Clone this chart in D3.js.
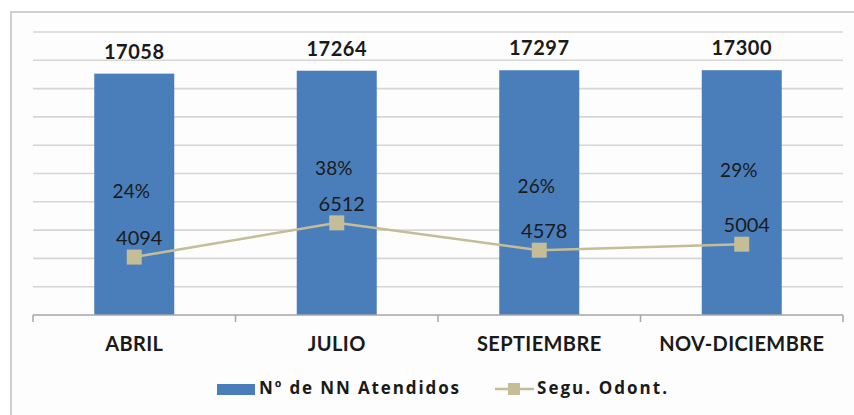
<!DOCTYPE html>
<head>
<meta charset="utf-8">
<style>
  body { margin: 0; background: #fff; }
  text { font-family: Lato, "Open Sans", sans-serif; fill: #1a1a1a; }
  .leg { font-family: "Open Sans", Lato, sans-serif; }
</style>
</head>
<body>
  <svg width="854" height="415"></svg>

  <script src="https://d3js.org/d3.v7.min.js"></script>
  <script>
  // chart data
  const months = ['ABRIL', 'JULIO', 'SEPTIEMBRE', 'NOV-DICIEMBRE'];
  const atendidos = [17058, 17264, 17297, 17300];
  const seguOdont = [4094, 6512, 4578, 5004];
  const pctLabels = ['24%', '38%', '26%', '29%'];
  const yTicks = d3.range(0, 20001, 2000);

  // layout (not data)
  const pctY = [193, 170, 188, 172];
  const blue = '#4a7ebb';
  const tan = '#c4bd97';

  const svg = d3.select('svg');

  // frame
  svg.append('rect')
    .attr('x', 11).attr('y', 12)
    .attr('width', 860).attr('height', 420)
    .attr('fill', '#fdfdfd')
    .attr('stroke', '#cfcfcf')
    .attr('stroke-width', 2);

  const xc = d3.scalePoint().domain(months).range([33, 843]).padding(0.5);
  const y = d3.scaleLinear().domain([0, 20000]).range([315, 32]);

  // gridlines
  svg.append('g')
    .selectAll('line')
    .data(yTicks.filter(d => d > 0))
    .enter()
    .append('line')
    .attr('x1', 33).attr('x2', 843)
    .attr('y1', d => y(d)).attr('y2', d => y(d))
    .attr('stroke', '#d6d6d6')
    .attr('stroke-width', 1.6);

  // bars
  svg.append('g')
    .selectAll('rect')
    .data(atendidos)
    .enter()
    .append('rect')
    .attr('x', (d, i) => xc(months[i]) - 40)
    .attr('width', 80)
    .attr('y', d => y(d))
    .attr('height', d => y(0) - y(d))
    .attr('fill', blue);

  // x axis
  const axis = svg.append('g').attr('transform', `translate(0,${y(0)})`);
  axis.append('line')
    .attr('x1', 33).attr('x2', 843)
    .attr('stroke', '#a6a6a6').attr('stroke-width', 1.5);
  const step = (843 - 33) / months.length;
  axis.selectAll('.tk')
    .data(d3.range(months.length + 1))
    .enter()
    .append('line')
    .attr('x1', d => 33 + d * step).attr('x2', d => 33 + d * step)
    .attr('y1', 0).attr('y2', 7)
    .attr('stroke', '#a6a6a6').attr('stroke-width', 1.5);
  axis.selectAll('text')
    .data(months)
    .enter()
    .append('text')
    .attr('x', d => xc(d))
    .attr('y', 31)
    .attr('text-anchor', 'middle')
    .attr('dominant-baseline', 'middle')
    .attr('font-size', 20)
    .attr('font-weight', 'bold')
    .attr('letter-spacing', 0.4)
    .text(d => d);

  // bar value labels
  svg.append('g')
    .selectAll('text')
    .data(atendidos)
    .enter()
    .append('text')
    .attr('x', (d, i) => xc(months[i]))
    .attr('y', d => y(d) - 20)
    .attr('text-anchor', 'middle')
    .attr('dominant-baseline', 'middle')
    .attr('font-size', 20)
    .attr('font-weight', 'bold')
    .attr('letter-spacing', 0.5)
    .text(d => d);

  // percentage labels
  svg.append('g')
    .selectAll('text')
    .data(pctLabels)
    .enter()
    .append('text')
    .attr('x', (d, i) => xc(months[i]) - 3)
    .attr('y', (d, i) => pctY[i])
    .attr('text-anchor', 'middle')
    .attr('dominant-baseline', 'middle')
    .attr('font-size', 19)
    .attr('fill', '#111')
    .text(d => d);

  // line series
  const line = d3.line()
    .x((d, i) => xc(months[i]))
    .y(d => y(d));
  svg.append('path')
    .datum(seguOdont)
    .attr('d', line)
    .attr('fill', 'none')
    .attr('stroke', tan)
    .attr('stroke-width', 2.5);
  svg.append('g')
    .selectAll('rect')
    .data(seguOdont)
    .enter()
    .append('rect')
    .attr('x', (d, i) => xc(months[i]) - 7.5)
    .attr('y', d => y(d) - 7.5)
    .attr('width', 15).attr('height', 15)
    .attr('fill', tan);
  svg.append('g')
    .selectAll('text')
    .data(seguOdont)
    .enter()
    .append('text')
    .attr('x', (d, i) => xc(months[i]) + 5)
    .attr('y', d => y(d) - 17)
    .attr('text-anchor', 'middle')
    .attr('dominant-baseline', 'middle')
    .attr('font-size', 20)
    .attr('fill', '#111')
    .text(d => d);

  // legend
  const legend = svg.append('g').attr('transform', 'translate(0,389)');
  legend.append('rect')
    .attr('x', 217).attr('y', -5).attr('width', 38).attr('height', 11)
    .attr('fill', blue);
  legend.append('text')
    .attr('class', 'leg')
    .attr('x', 259).attr('y', 0)
    .attr('dominant-baseline', 'middle')
    .attr('font-size', 17).attr('font-weight', 'bold')
    .attr('textLength', 200).attr('lengthAdjust', 'spacing')
    .text('Nº de NN Atendidos');
  legend.append('line')
    .attr('x1', 495).attr('x2', 534).attr('y1', 0).attr('y2', 0)
    .attr('stroke', tan).attr('stroke-width', 2.5);
  legend.append('rect')
    .attr('x', 508).attr('y', -6).attr('width', 12).attr('height', 12)
    .attr('fill', tan);
  legend.append('text')
    .attr('class', 'leg')
    .attr('x', 537).attr('y', 0)
    .attr('dominant-baseline', 'middle')
    .attr('font-size', 17).attr('font-weight', 'bold')
    .attr('textLength', 130).attr('lengthAdjust', 'spacing')
    .text('Segu. Odont.');
  </script>
</body>
</html>
